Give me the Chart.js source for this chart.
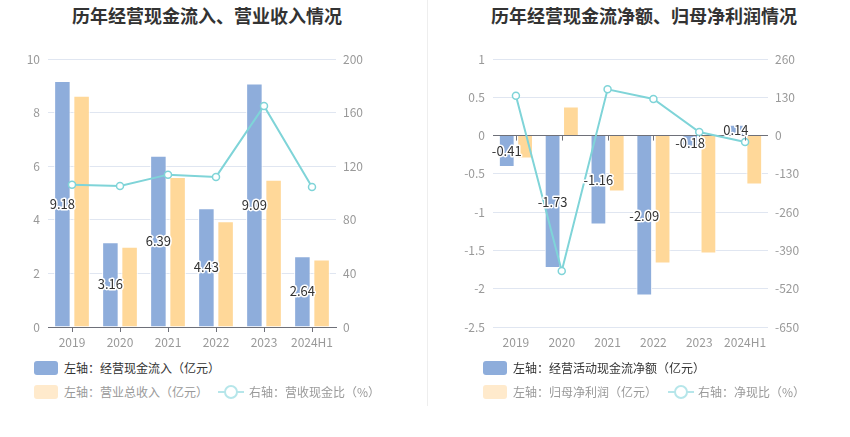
<!DOCTYPE html>
<html>
<head>
<meta charset="utf-8">
<script src="https://cdn.jsdelivr.net/npm/chart.js@4.4.1/dist/chart.umd.min.js"></script>
<style>
  body { margin: 0; background: #fff; font-family: "Noto Sans CJK SC", sans-serif; }
  #wrap { position: relative; width: 850px; height: 437px; overflow: hidden; }
  .title { position: absolute; top: 2px; font-size: 18px; font-weight: bold; color: #333; white-space: nowrap; transform: translateX(-50%); }
  canvas { position: absolute; top: 0; }
  .divider { position: absolute; left: 427px; top: 0; width: 1px; height: 406px; background: #eee; }
  .lg { position: absolute; font-size: 12px; white-space: nowrap; line-height: 14px; }
  .box { position: absolute; width: 24px; height: 14px; border-radius: 3px; }
  .lineicon { position: absolute; width: 26px; height: 14px; }
  .lineicon:before { content: ""; position: absolute; left: 0; right: 0; top: 6px; height: 2px; background: #b6e6ea; }
  .lineicon:after { content: ""; position: absolute; left: 6px; top: 0; width: 10px; height: 10px; border: 2px solid #b6e6ea; border-radius: 50%; background: #fff; }
</style>
</head>
<body>
<div id="wrap">
  <div class="title" style="left:207px">历年经营现金流入、营业收入情况</div>
  <div class="title" style="left:644px">历年经营现金流净额、归母净利润情况</div>
  <canvas id="c1" width="425" height="352" style="left:0"></canvas>
  <canvas id="c2" width="425" height="352" style="left:425px"></canvas>
  <div class="divider"></div>

  <div class="box" style="left:34px;top:361px;background:#8eaddb"></div>
  <div class="lg" style="left:64px;top:361px;color:#333">左轴：经营现金流入（亿元）</div>
  <div class="box" style="left:34px;top:385px;background:#ffeacc"></div>
  <div class="lg" style="left:64px;top:385px;color:#999">左轴：营业总收入（亿元）</div>
  <div class="lineicon" style="left:218px;top:385px"></div>
  <div class="lg" style="left:249px;top:385px;color:#999">右轴：营收现金比（%）</div>

  <div class="box" style="left:483px;top:361px;background:#8eaddb"></div>
  <div class="lg" style="left:513px;top:361px;color:#333">左轴：经营活动现金流净额（亿元）</div>
  <div class="box" style="left:483px;top:385px;background:#ffeacc"></div>
  <div class="lg" style="left:513px;top:385px;color:#999">左轴：归母净利润（亿元）</div>
  <div class="lineicon" style="left:668px;top:385px"></div>
  <div class="lg" style="left:698px;top:385px;color:#999">右轴：净现比（%）</div>
</div>
<script>
// values
const years = ['2019', '2020', '2021', '2022', '2023', '2024H1'];
const cashInflow = [9.18, 3.16, 6.39, 4.43, 9.09, 2.64];
const revenue = [8.63, 2.99, 5.60, 3.95, 5.49, 2.52];
const cashRevenueRatio = [106.1, 105.2, 113.7, 112.0, 165.0, 104.5];
const netCashFlow = [-0.41, -1.73, -1.16, -2.09, -0.18, 0.14];
const netProfit = [-0.30, 0.38, -0.73, -1.67, -1.54, -0.64];
const netCashRatio = [135, -460, 157, 124, 12, -22];

const blue = '#8eaddb', orange = '#ffd899', teal = '#7fd4d8';
const gridColor = '#e0e6f1', axisColor = '#6e7079', tickColor = '#999';
const font = { family: '"Noto Sans CJK SC", sans-serif', size: 12 };
const plainNum = v => String(Math.round(v * 10) / 10);

// value labels in the middle of the blue bars
const barLabels = {
    id: 'barLabels',
    afterDatasetsDraw(chart) {
        const idx = chart.data.datasets.findIndex(d => d.type === 'bar');
        const meta = chart.getDatasetMeta(idx);
        const vals = chart.data.datasets[idx].data;
        const ctx = chart.ctx;
        ctx.save();
        ctx.font = '13px "Noto Sans CJK SC", sans-serif';
        ctx.textAlign = 'center';
        ctx.textBaseline = 'middle';
        ctx.lineWidth = 3;
        ctx.lineJoin = 'round';
        ctx.strokeStyle = '#fff';
        ctx.fillStyle = '#333';
        meta.data.forEach((bar, i) => {
            const y = (bar.y + bar.base) / 2;
            ctx.strokeText(String(vals[i]), bar.x, y);
            ctx.fillText(String(vals[i]), bar.x, y);
        });
        ctx.restore();
    }
};

// zero line tick marks for the second chart
const zeroTicks = {
    id: 'zeroTicks',
    afterDatasetsDraw(chart) {
        const x = chart.scales.x, y = chart.scales.y;
        const y0 = y.getPixelForValue(0);
        const ctx = chart.ctx;
        ctx.save();
        ctx.strokeStyle = axisColor;
        ctx.lineWidth = 1;
        ctx.beginPath();
        years.forEach((_, i) => {
            const px = Math.round(x.getPixelForValue(i)) + 0.5;
            ctx.moveTo(px, y0);
            ctx.lineTo(px, y0 + 5);
        });
        ctx.stroke();
        ctx.restore();
    }
};

function makeChart(id, bars1, bars2, line, yOpts, y1Opts, leftW, rightW, zeroAxis) {
    return new Chart(id, {
        data: {
            labels: years,
            datasets: [
                {
                    type: 'line', data: line, yAxisID: 'y1', order: 0,
                    borderColor: teal, borderWidth: 2, tension: 0,
                    pointRadius: 3.5, pointBackgroundColor: '#fff',
                    pointBorderColor: teal, pointBorderWidth: 1.5
                },
                {
                    type: 'bar', data: bars1, yAxisID: 'y', order: 1,
                    backgroundColor: blue, borderColor: '#fff', borderWidth: 1,
                    categoryPercentage: 0.8, barPercentage: 0.86
                },
                {
                    type: 'bar', data: bars2, yAxisID: 'y', order: 1,
                    backgroundColor: orange, borderColor: '#fff', borderWidth: 1,
                    categoryPercentage: 0.8, barPercentage: 0.86
                }
            ]
        },
        options: {
            responsive: false,
            animation: false,
            layout: { padding: { top: 59, left: 0, right: 0, bottom: 0 } },
            plugins: { legend: { display: false }, tooltip: { enabled: false } },
            scales: {
                x: {
                    offset: true,
                    grid: {
                        display: true, drawOnChartArea: false, offset: false,
                        tickLength: 5, color: zeroAxis ? 'transparent' : axisColor
                    },
                    border: { display: !zeroAxis, color: axisColor },
                    ticks: { color: tickColor, font: font, padding: 3, maxRotation: 0, autoSkip: false },
                    afterFit: s => { s.height = 25; }
                },
                y: Object.assign({
                    position: 'left',
                    border: { display: false },
                    grid: {
                        color: c => (zeroAxis && c.tick.value === 0) ? axisColor : gridColor,
                        drawTicks: false
                    },
                    afterFit: s => { s.width = leftW; }
                }, yOpts),
                y1: Object.assign({
                    position: 'right',
                    border: { display: false },
                    grid: { display: false, drawTicks: false },
                    afterFit: s => { s.width = rightW; }
                }, y1Opts)
            }
        },
        plugins: zeroAxis ? [zeroTicks, barLabels] : [barLabels]
    });
}

makeChart('c1', cashInflow, revenue, cashRevenueRatio,
    { min: 0, max: 10, ticks: { stepSize: 2, color: tickColor, font: font, padding: 8, callback: plainNum } },
    { min: 0, max: 200, ticks: { stepSize: 40, color: tickColor, font: font, padding: 7, callback: plainNum } },
    48, 89, false);

makeChart('c2', netCashFlow, netProfit, netCashRatio,
    { min: -2.5, max: 1, ticks: { stepSize: 0.5, color: tickColor, font: font, padding: 8, callback: plainNum } },
    { min: -650, max: 260, ticks: { stepSize: 130, color: tickColor, font: font, padding: 7, callback: plainNum } },
    68, 82, true);
</script>
</body>
</html>
